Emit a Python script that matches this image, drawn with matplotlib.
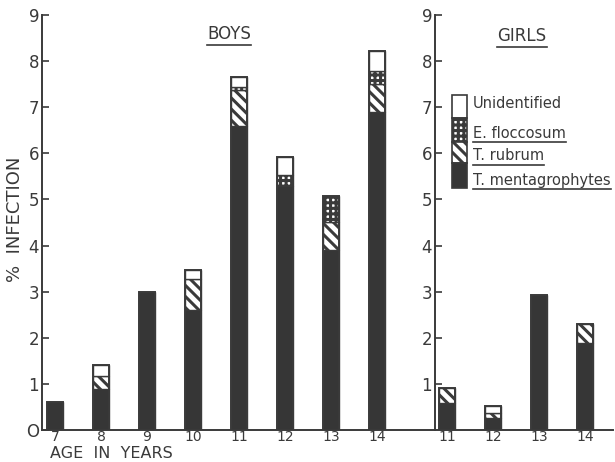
import numpy as np
import matplotlib.pyplot as plt
from matplotlib.patches import Rectangle
from matplotlib.lines import Line2D

# Values (% infection by age and fungus)
boys_ages = ["7", "8", "9", "10", "11", "12", "13", "14"]
boys_mentagrophytes = [0.6, 0.9, 3.0, 2.6, 6.6, 5.29, 3.9, 6.9]
boys_rubrum = [0.0, 0.28, 0.0, 0.68, 0.78, 0.0, 0.62, 0.6]
boys_floccosum = [0.0, 0.0, 0.0, 0.0, 0.06, 0.24, 0.55, 0.29]
boys_unidentified = [0.0, 0.22, 0.0, 0.2, 0.21, 0.38, 0.0, 0.43]

girls_ages = ["11", "12", "13", "14"]
girls_mentagrophytes = [0.59, 0.26, 2.92, 1.88]
girls_rubrum = [0.32, 0.11, 0.0, 0.42]
girls_floccosum = [0.0, 0.0, 0.0, 0.0]
girls_unidentified = [0.0, 0.15, 0.0, 0.0]

legend_labels = ["Unidentified", "E. floccosum", "T. rubrum", "T. mentagrophytes"]

ink = "#3a3a3a"
dark = "#363636"
plt.rcParams['font.family'] = ['DejaVu Sans']
plt.rcParams['hatch.linewidth'] = 2.2
plt.rcParams['hatch.color'] = ink

W, H = 615, 462
fig = plt.figure(figsize=(W / 100, H / 100), dpi=100)

# styles for each layer, bottom to top
styles = [
    dict(facecolor=dark, hatch=None),
    dict(facecolor="white", hatch="\\\\\\"),
    dict(facecolor="white", hatch="+++"),
    dict(facecolor="white", hatch=None),
]


def draw_stack(ax, layers):
    n = len(layers[0])
    x = np.arange(n)
    bottom = np.zeros(n)
    for vals, st in zip(layers, styles):
        vals = np.array(vals)
        mask = vals > 0
        ax.bar(x[mask], vals[mask], width=0.33, bottom=bottom[mask],
               facecolor=st["facecolor"], hatch=st["hatch"],
               edgecolor=ink, linewidth=1.0)
        bottom = bottom + vals
    # outline of the whole bar
    ax.bar(x, bottom, width=0.33, facecolor="none", edgecolor=ink, linewidth=1.4)


def style_axis(ax, labels, zero_label):
    ax.set_ylim(0, 9)
    for s in ["top", "right"]:
        ax.spines[s].set_visible(False)
    for s in ["left", "bottom"]:
        ax.spines[s].set_color(ink)
        ax.spines[s].set_linewidth(1.4)
    ax.set_xticks(range(len(labels)))
    ax.set_xticklabels(labels)
    ax.tick_params(axis="x", length=0, pad=0, labelsize=10, labelcolor=ink)
    if zero_label:
        ax.set_yticks(range(0, 10))
        ax.set_yticklabels(["O"] + [str(i) for i in range(1, 10)])
    else:
        ax.set_yticks(range(1, 10))
    ax.tick_params(axis="y", direction="in", length=5, width=1.2, color=ink,
                   pad=2, labelsize=12, labelcolor=ink)


# Boys panel
ax_b = fig.add_axes([42 / W, (H - 430) / H, (435 - 42) / W, 415 / H])
draw_stack(ax_b, [boys_mentagrophytes, boys_rubrum, boys_floccosum, boys_unidentified])
ax_b.set_xlim(-13 / 46, (435 - 55) / 46)
style_axis(ax_b, boys_ages, True)

# Girls panel
ax_g = fig.add_axes([435 / W, (H - 430) / H, (613 - 435) / W, 415 / H])
draw_stack(ax_g, [girls_mentagrophytes, girls_rubrum, girls_floccosum, girls_unidentified])
ax_g.set_xlim(-12 / 46, (613 - 447) / 46)
style_axis(ax_g, girls_ages, False)

# Texts
def px(x, y):
    return x / W, 1 - y / H

underline_items = []
t = fig.text(*px(229, 34), "BOYS", ha="center", va="center", fontsize=12, color=ink)
underline_items.append(t)
t = fig.text(*px(522, 36), "GIRLS", ha="center", va="center", fontsize=12, color=ink)
underline_items.append(t)
fig.text(*px(15, 219), "%  INFECTION", rotation=90, ha="center", va="center",
         fontsize=13, color=ink)
fig.text(*px(50, 461.5), "AGE  IN  YEARS", ha="left", va="bottom", fontsize=11.5, color=ink)

# Legend, drawn by hand like the original
box_x, box_w = 452, 15
edges = [95, 118, 142, 163, 188]
for i, (lab, st) in enumerate(zip(legend_labels, styles[::-1])):
    y0, y1 = edges[i], edges[i + 1]
    fig.patches.append(Rectangle(px(box_x, y1), box_w / W, (y1 - y0) / H,
                                 transform=fig.transFigure, facecolor=st["facecolor"],
                                 hatch=st["hatch"], edgecolor=ink, linewidth=1.2))
    ty = [103, 133, 156, 180][i]
    t = fig.text(*px(473, ty), lab, ha="left", va="center", fontsize=10.5, color=ink)
    if i > 0:
        underline_items.append(t)

fig.canvas.draw()
r = fig.canvas.get_renderer()
for t in underline_items:
    bb = t.get_window_extent(r)
    y = bb.y0 - 1.5
    fig.lines.append(Line2D([bb.x0 / W, min(bb.x1, W) / W], [y / H, y / H],
                            transform=fig.transFigure, color=ink, linewidth=1.2))

fig.savefig("out.png", dpi=100, facecolor="white")
